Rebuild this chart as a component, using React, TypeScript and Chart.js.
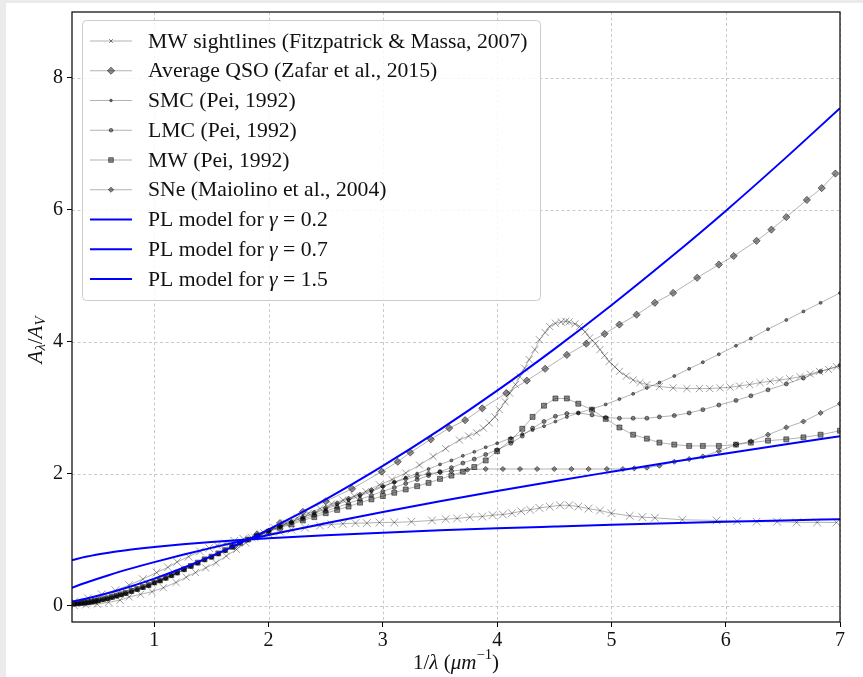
import React, { useEffect, useRef } from 'react';
import { Chart, registerables } from 'chart.js';

Chart.register(...registerables);

const FONT = '"Liberation Serif", "Times New Roman", serif';

const X_TICKS = [1, 2, 3, 4, 5, 6, 7];
const Y_TICKS = [0, 2, 4, 6, 8];

// MW sightlines (Fitzpatrick & Massa, 2007) - steep sightline with strong bump
const FM_HIGH_X = [0.30, 0.40, 0.50, 0.60, 0.70, 0.78, 0.88, 0.98, 1.08, 1.19, 1.28, 1.36, 1.45, 1.54, 1.63, 1.72, 1.80, 1.88, 1.96, 2.05, 2.15, 2.25, 2.35, 2.45, 2.55, 2.65, 2.75, 2.85, 2.97, 3.08, 3.20, 3.32, 3.44, 3.55, 3.67, 3.75, 3.82, 3.88, 3.93, 3.98, 4.02, 4.07, 4.11, 4.16, 4.20, 4.24, 4.28, 4.33, 4.37, 4.42, 4.46, 4.51, 4.56, 4.60, 4.63, 4.68, 4.72, 4.77, 4.81, 4.86, 4.90, 4.94, 4.98, 5.03, 5.07, 5.13, 5.19, 5.25, 5.31, 5.42, 5.54, 5.66, 5.77, 5.86, 5.95, 6.04, 6.12, 6.21, 6.30, 6.39, 6.47, 6.56, 6.65, 6.74, 6.82, 6.90, 6.97];
const FM_HIGH_Y = [0.0, 0.01, 0.02, 0.05, 0.08, 0.13, 0.17, 0.21, 0.27, 0.35, 0.43, 0.50, 0.57, 0.65, 0.75, 0.85, 0.95, 1.03, 1.10, 1.18, 1.25, 1.33, 1.40, 1.47, 1.54, 1.60, 1.66, 1.73, 1.83, 1.91, 2.01, 2.13, 2.26, 2.38, 2.51, 2.57, 2.62, 2.69, 2.77, 2.86, 2.97, 3.09, 3.22, 3.35, 3.47, 3.60, 3.73, 3.88, 4.03, 4.14, 4.23, 4.28, 4.30, 4.31, 4.30, 4.27, 4.23, 4.15, 4.06, 3.97, 3.88, 3.79, 3.70, 3.62, 3.55, 3.48, 3.42, 3.38, 3.35, 3.32, 3.30, 3.29, 3.29, 3.29, 3.30, 3.31, 3.33, 3.35, 3.38, 3.40, 3.42, 3.44, 3.47, 3.51, 3.55, 3.58, 3.62];

// MW sightlines (Fitzpatrick & Massa, 2007) - flat sightline with weak bump
const FM_LOW_X = [0.30, 0.42, 0.54, 0.66, 0.78, 0.90, 1.02, 1.12, 1.20, 1.30, 1.40, 1.48, 1.55, 1.62, 1.70, 1.78, 1.85, 1.93, 2.00, 2.10, 2.20, 2.32, 2.45, 2.55, 2.65, 2.76, 2.86, 2.97, 3.10, 3.25, 3.43, 3.55, 3.65, 3.76, 3.87, 3.96, 4.05, 4.13, 4.21, 4.29, 4.37, 4.46, 4.55, 4.63, 4.71, 4.80, 4.90, 5.00, 5.16, 5.27, 5.38, 5.62, 5.92, 6.10, 6.27, 6.45, 6.62, 6.80, 6.97];
const FM_LOW_Y = [0.06, 0.11, 0.17, 0.23, 0.31, 0.40, 0.50, 0.58, 0.66, 0.74, 0.82, 0.87, 0.91, 0.94, 0.98, 1.01, 1.03, 1.06, 1.09, 1.12, 1.15, 1.18, 1.21, 1.23, 1.24, 1.25, 1.25, 1.26, 1.26, 1.27, 1.29, 1.31, 1.32, 1.34, 1.35, 1.37, 1.38, 1.40, 1.43, 1.45, 1.48, 1.50, 1.52, 1.52, 1.50, 1.47, 1.44, 1.40, 1.36, 1.34, 1.33, 1.30, 1.29, 1.28, 1.27, 1.27, 1.26, 1.26, 1.26];

// Average QSO (Zafar et al., 2015)
const QSO_X = [1.70, 1.90, 2.10, 2.30, 2.50, 2.73, 2.99, 3.13, 3.24, 3.42, 3.58, 3.72, 3.87, 4.08, 4.26, 4.42, 4.61, 4.78, 4.94, 5.07, 5.22, 5.38, 5.54, 5.75, 5.94, 6.07, 6.27, 6.40, 6.53, 6.71, 6.84, 6.96];
const QSO_Y = [0.90, 1.08, 1.25, 1.42, 1.58, 1.77, 2.03, 2.18, 2.32, 2.52, 2.69, 2.81, 2.99, 3.22, 3.41, 3.59, 3.80, 3.97, 4.12, 4.26, 4.41, 4.59, 4.74, 4.97, 5.17, 5.30, 5.53, 5.70, 5.89, 6.15, 6.33, 6.55];

// wavelength grid shared by the Pei (1992) curves
const PEI_X = [0.30, 0.33, 0.36, 0.39, 0.42, 0.45, 0.48, 0.51, 0.55, 0.59, 0.63, 0.67, 0.71, 0.75, 0.80, 0.85, 0.90, 0.95, 1.00, 1.05, 1.10, 1.15, 1.20, 1.26, 1.32, 1.38, 1.44, 1.50, 1.56, 1.62, 1.68, 1.75, 1.82, 1.90, 2.00, 2.10, 2.20, 2.30, 2.40, 2.50, 2.60, 2.70, 2.80, 2.90, 3.00, 3.10, 3.20, 3.30, 3.40, 3.50, 3.60, 3.70, 3.80, 3.90, 4.00, 4.12, 4.22, 4.31, 4.41, 4.51, 4.61, 4.71, 4.83, 4.95, 5.07, 5.19, 5.31, 5.42, 5.55, 5.68, 5.80, 5.94, 6.09, 6.22, 6.37, 6.53, 6.68, 6.83, 7.00];

// SMC (Pei, 1992)
const SMC_Y = [0.020, 0.025, 0.030, 0.035, 0.040, 0.050, 0.060, 0.070, 0.085, 0.10, 0.12, 0.14, 0.16, 0.18, 0.21, 0.24, 0.27, 0.30, 0.34, 0.37, 0.41, 0.45, 0.49, 0.54, 0.59, 0.64, 0.69, 0.73, 0.78, 0.83, 0.89, 0.95, 1.00, 1.06, 1.14, 1.20, 1.27, 1.33, 1.40, 1.46, 1.53, 1.60, 1.66, 1.73, 1.80, 1.87, 1.94, 2.00, 2.07, 2.14, 2.20, 2.27, 2.33, 2.40, 2.46, 2.54, 2.60, 2.66, 2.72, 2.79, 2.86, 2.92, 2.98, 3.05, 3.13, 3.21, 3.30, 3.38, 3.48, 3.59, 3.69, 3.81, 3.94, 4.05, 4.19, 4.33, 4.46, 4.59, 4.74];

// LMC (Pei, 1992)
const LMC_Y = [0.025, 0.030, 0.035, 0.040, 0.045, 0.055, 0.065, 0.075, 0.090, 0.105, 0.125, 0.145, 0.165, 0.185, 0.215, 0.245, 0.275, 0.305, 0.345, 0.375, 0.415, 0.455, 0.495, 0.545, 0.595, 0.645, 0.695, 0.735, 0.785, 0.835, 0.89, 0.95, 1.00, 1.06, 1.13, 1.19, 1.25, 1.31, 1.37, 1.43, 1.49, 1.55, 1.61, 1.67, 1.73, 1.79, 1.85, 1.91, 1.97, 2.03, 2.09, 2.16, 2.22, 2.29, 2.36, 2.46, 2.57, 2.69, 2.79, 2.87, 2.91, 2.92, 2.89, 2.85, 2.84, 2.84, 2.84, 2.86, 2.88, 2.92, 2.97, 3.04, 3.11, 3.18, 3.27, 3.36, 3.45, 3.55, 3.64];

// MW (Pei, 1992)
const MWP_Y = [0.030, 0.035, 0.040, 0.045, 0.050, 0.060, 0.070, 0.080, 0.095, 0.11, 0.13, 0.15, 0.17, 0.19, 0.22, 0.25, 0.28, 0.31, 0.35, 0.38, 0.42, 0.46, 0.50, 0.55, 0.60, 0.65, 0.70, 0.74, 0.79, 0.84, 0.89, 0.95, 1.00, 1.05, 1.12, 1.18, 1.23, 1.29, 1.34, 1.40, 1.45, 1.50, 1.56, 1.61, 1.66, 1.71, 1.76, 1.81, 1.86, 1.92, 1.97, 2.03, 2.10, 2.20, 2.34, 2.51, 2.68, 2.86, 3.03, 3.14, 3.14, 3.06, 2.97, 2.83, 2.70, 2.59, 2.53, 2.47, 2.44, 2.42, 2.42, 2.42, 2.44, 2.47, 2.50, 2.52, 2.55, 2.59, 2.65];

// SNe (Maiolino et al., 2004)
const SNE_X = [2.00, 2.10, 2.20, 2.30, 2.40, 2.50, 2.60, 2.70, 2.80, 2.90, 3.00, 3.10, 3.20, 3.30, 3.40, 3.50, 3.60, 3.74, 3.90, 4.05, 4.20, 4.35, 4.50, 4.65, 4.80, 4.96, 5.10, 5.20, 5.31, 5.42, 5.55, 5.68, 5.80, 5.94, 6.09, 6.22, 6.37, 6.53, 6.68, 6.83, 7.00];
const SNE_Y = [1.13, 1.20, 1.27, 1.34, 1.41, 1.48, 1.55, 1.62, 1.68, 1.75, 1.81, 1.87, 1.92, 1.96, 2.00, 2.02, 2.04, 2.06, 2.07, 2.07, 2.07, 2.07, 2.07, 2.07, 2.07, 2.07, 2.07, 2.08, 2.09, 2.12, 2.18, 2.22, 2.26, 2.34, 2.44, 2.49, 2.59, 2.70, 2.79, 2.92, 3.06];

// Power-law models
const PL_X = [0.28, 0.40, 0.60, 0.80, 1.00, 1.25, 1.50, 1.82, 2.00, 2.50, 3.00, 3.50, 4.00, 4.50, 5.00, 5.50, 6.00, 6.50, 7.00];
const PL_G02 = [0.688, 0.739, 0.801, 0.848, 0.887, 0.928, 0.962, 1.0, 1.019, 1.066, 1.105, 1.140, 1.171, 1.198, 1.224, 1.248, 1.270, 1.290, 1.309];
const PL_G07 = [0.270, 0.346, 0.460, 0.563, 0.658, 0.769, 0.874, 1.0, 1.068, 1.249, 1.419, 1.581, 1.735, 1.885, 2.028, 2.169, 2.305, 2.438, 2.568];
const PL_G15 = [0.060, 0.103, 0.189, 0.291, 0.407, 0.569, 0.749, 1.0, 1.152, 1.610, 2.117, 2.667, 3.258, 3.888, 4.554, 5.254, 5.984, 6.750, 7.542];

const GRAY_LINE = 'rgba(0,0,0,0.3)';
const MARK_FILL = 'rgba(0,0,0,0.45)';
const MARK_EDGE = 'rgba(0,0,0,0.5)';
const CROSS_EDGE = 'rgba(0,0,0,0.38)';
const BLUE = '#0000ff';

type Series = {
  label: string;
  xs: number[];
  ys: number[];
  style: string | false;
  r: number;
  legendR: number;
  legend: boolean;
  blue?: boolean;
};

const SERIES: Series[] = [
  { label: 'MW sightlines (Fitzpatrick & Massa, 2007)', xs: FM_HIGH_X, ys: FM_HIGH_Y, style: 'crossRot', r: 5, legendR: 2.6, legend: true },
  { label: 'MW sightlines (Fitzpatrick & Massa, 2007)', xs: FM_LOW_X, ys: FM_LOW_Y, style: 'crossRot', r: 5.5, legendR: 2.6, legend: false },
  { label: 'Average QSO (Zafar et al., 2015)', xs: QSO_X, ys: QSO_Y, style: 'rectRot', r: 3.6, legendR: 3.6, legend: true },
  { label: 'SMC (Pei, 1992)', xs: PEI_X, ys: SMC_Y, style: 'circle', r: 1.5, legendR: 1.3, legend: true },
  { label: 'LMC (Pei, 1992)', xs: PEI_X, ys: LMC_Y, style: 'circle', r: 2.0, legendR: 1.8, legend: true },
  { label: 'MW (Pei, 1992)', xs: PEI_X, ys: MWP_Y, style: 'rect', r: 3.5, legendR: 3.3, legend: true },
  { label: 'SNe (Maiolino et al., 2004)', xs: SNE_X, ys: SNE_Y, style: 'rectRot', r: 2.6, legendR: 2.6, legend: true },
  { label: 'PL model for γ = 0.2', xs: PL_X, ys: PL_G02, style: false, r: 0, legendR: 0, legend: true, blue: true },
  { label: 'PL model for γ = 0.7', xs: PL_X, ys: PL_G07, style: false, r: 0, legendR: 0, legend: true, blue: true },
  { label: 'PL model for γ = 1.5', xs: PL_X, ys: PL_G15, style: false, r: 0, legendR: 0, legend: true, blue: true },
];

type Seg = { t: string; it?: boolean; sub?: boolean; sup?: boolean };

function segsWidth(ctx: CanvasRenderingContext2D, segs: Seg[], size: number) {
  let w = 0;
  for (const s of segs) {
    const sz = s.sub || s.sup ? size * 0.7 : size;
    ctx.font = `${s.it ? 'italic ' : ''}${sz}px ${FONT}`;
    w += ctx.measureText(s.t).width;
  }
  return w;
}

function drawSegs(ctx: CanvasRenderingContext2D, segs: Seg[], x: number, y: number, size: number) {
  let cx = x;
  for (const s of segs) {
    const sz = s.sub || s.sup ? size * 0.7 : size;
    ctx.font = `${s.it ? 'italic ' : ''}${sz}px ${FONT}`;
    const dy = s.sub ? size * 0.25 : s.sup ? -size * 0.38 : 0;
    ctx.fillText(s.t, cx, y + dy);
    cx += ctx.measureText(s.t).width;
  }
}

function labelSegs(label: string): Seg[] {
  const parts = label.split('γ');
  if (parts.length === 1) return [{ t: label }];
  return [{ t: parts[0] }, { t: 'γ', it: true }, { t: parts[1] }];
}

function drawMarker(ctx: CanvasRenderingContext2D, style: string, x: number, y: number, r: number) {
  ctx.save();
  ctx.fillStyle = MARK_FILL;
  ctx.strokeStyle = MARK_EDGE;
  ctx.lineWidth = 1;
  ctx.beginPath();
  if (style === 'crossRot') {
    const d = r * Math.SQRT1_2;
    ctx.moveTo(x - d, y - d);
    ctx.lineTo(x + d, y + d);
    ctx.moveTo(x - d, y + d);
    ctx.lineTo(x + d, y - d);
    ctx.stroke();
  } else if (style === 'rectRot') {
    ctx.moveTo(x, y - r);
    ctx.lineTo(x + r, y);
    ctx.lineTo(x, y + r);
    ctx.lineTo(x - r, y);
    ctx.closePath();
    ctx.fill();
    ctx.stroke();
  } else if (style === 'rect') {
    const s = r * Math.SQRT1_2;
    ctx.rect(x - s, y - s, 2 * s, 2 * s);
    ctx.fill();
    ctx.stroke();
  } else {
    ctx.arc(x, y, r, 0, Math.PI * 2);
    ctx.fill();
    ctx.stroke();
  }
  ctx.restore();
}

const Y_TITLE: Seg[] = [
  { t: 'A', it: true },
  { t: 'λ', it: true, sub: true },
  { t: '/' },
  { t: 'A', it: true },
  { t: 'V', it: true, sub: true },
];
const X_TITLE: Seg[] = [
  { t: '1/' },
  { t: 'λ', it: true },
  { t: ' (' },
  { t: 'μm', it: true },
  { t: '−1', sup: true },
  { t: ')' },
];

const decorPlugin = {
  id: 'decor',
  beforeDatasetsDraw(chart: any) {
    const { ctx, chartArea: a, scales } = chart;
    ctx.save();
    ctx.strokeStyle = '#bdbdbd';
    ctx.lineWidth = 0.8;
    ctx.setLineDash([3, 2.5]);
    for (const v of X_TICKS) {
      const px = Math.round(scales.x.getPixelForValue(v)) + 0.5;
      ctx.beginPath();
      ctx.moveTo(px, a.top);
      ctx.lineTo(px, a.bottom);
      ctx.stroke();
    }
    for (const v of Y_TICKS) {
      const py = Math.round(scales.y.getPixelForValue(v)) + 0.5;
      ctx.beginPath();
      ctx.moveTo(a.left, py);
      ctx.lineTo(a.right, py);
      ctx.stroke();
    }
    ctx.restore();
  },
  afterDatasetsDraw(chart: any) {
    const { ctx, chartArea: a } = chart;
    ctx.save();
    // frame
    ctx.strokeStyle = '#000';
    ctx.lineWidth = 1.2;
    ctx.strokeRect(a.left, a.top, a.right - a.left, a.bottom - a.top);

    // legend
    const bx = 76, by = 17, bw = 458, bh = 280;
    ctx.beginPath();
    (ctx as any).roundRect(bx + 0.5, by + 0.5, bw, bh, 4);
    ctx.fillStyle = 'rgba(255,255,255,0.85)';
    ctx.fill();
    ctx.strokeStyle = '#cccccc';
    ctx.lineWidth = 1;
    ctx.stroke();

    const items = SERIES.filter((s) => s.legend);
    const rowTop = 38;
    const pitch = 29.75;
    ctx.textBaseline = 'middle';
    ctx.textAlign = 'left';
    items.forEach((s, i) => {
      const cy = rowTop + i * pitch;
      ctx.save();
      ctx.strokeStyle = s.blue ? BLUE : GRAY_LINE;
      ctx.lineWidth = s.blue ? 2 : 1;
      ctx.beginPath();
      ctx.moveTo(84, cy);
      ctx.lineTo(126, cy);
      ctx.stroke();
      ctx.restore();
      if (s.style) drawMarker(ctx, s.style, 105, cy, s.legendR);
      ctx.fillStyle = '#111';
      drawSegs(ctx, labelSegs(s.label), 142, cy + 1, 21.7);
    });

    // axis titles
    ctx.fillStyle = '#111';
    ctx.textBaseline = 'middle';
    const xw = segsWidth(ctx, X_TITLE, 21);
    const xc = (a.left + a.right) / 2;
    drawSegs(ctx, X_TITLE, xc - xw / 2, 660, 21);

    const yw = segsWidth(ctx, Y_TITLE, 21);
    ctx.translate(30, 337);
    ctx.rotate(-Math.PI / 2);
    drawSegs(ctx, Y_TITLE, -yw / 2, 0, 21);
    ctx.restore();
  },
};

export default function App() {
  const ref = useRef<HTMLCanvasElement | null>(null);

  useEffect(() => {
    if (!ref.current) return;
    const N = SERIES.length;
    const datasets = SERIES.map((s, i) => ({
      label: s.label,
      data: s.xs.slice(0, Math.min(s.xs.length, s.ys.length)).map((x, k) => ({ x, y: s.ys[k] })),
      borderColor: s.blue ? BLUE : GRAY_LINE,
      borderWidth: s.blue ? 2 : 1,
      backgroundColor: MARK_FILL,
      pointStyle: s.style || 'circle',
      pointRadius: s.style ? s.r : 0,
      pointBorderColor: s.style === 'crossRot' ? CROSS_EDGE : MARK_EDGE,
      pointBackgroundColor: MARK_FILL,
      pointBorderWidth: 1,
      pointHoverRadius: s.style ? s.r : 0,
      tension: 0,
      cubicInterpolationMode: s.blue ? 'monotone' : 'default',
      fill: false,
      clip: 0,
      order: N - i,
    }));

    const chart = new Chart(ref.current, {
      type: 'line',
      data: { datasets } as any,
      options: {
        animation: false,
        responsive: false,
        devicePixelRatio: 1,
        events: [],
        layout: { padding: { left: 0, top: 9, right: 23, bottom: 0 } },
        plugins: { legend: { display: false }, tooltip: { enabled: false } },
        scales: {
          x: {
            type: 'linear',
            min: 0.28,
            max: 7,
            afterBuildTicks: (s: any) => {
              s.ticks = X_TICKS.map((v) => ({ value: v }));
            },
            afterFit: (s: any) => {
              s.height = 55;
              s.paddingLeft = 0;
              s.paddingRight = 0;
            },
            ticks: {
              font: { family: FONT, size: 20 },
              color: '#111',
              padding: 2,
              maxRotation: 0,
              autoSkip: false,
              callback: (v: any) => String(v),
            },
            grid: { drawOnChartArea: false, drawTicks: true, tickLength: 5, tickColor: '#000', tickWidth: 1 },
            border: { display: false },
          },
          y: {
            type: 'linear',
            min: -0.25,
            max: 9,
            afterBuildTicks: (s: any) => {
              s.ticks = Y_TICKS.map((v) => ({ value: v }));
            },
            afterFit: (s: any) => {
              s.width = 66;
              s.paddingTop = 0;
              s.paddingBottom = 0;
            },
            ticks: {
              font: { family: FONT, size: 20 },
              color: '#111',
              padding: 4,
              autoSkip: false,
              callback: (v: any) => String(v),
            },
            grid: { drawOnChartArea: false, drawTicks: true, tickLength: 5, tickColor: '#000', tickWidth: 1 },
            border: { display: false },
          },
        },
      } as any,
      plugins: [decorPlugin],
    });
    return () => chart.destroy();
  }, []);

  return (
    <div style={{ position: 'fixed', left: 0, top: 0, width: '100vw', height: '100vh', background: '#ebebeb', overflow: 'hidden' }}>
      <canvas
        ref={ref}
        width={857}
        height={674}
        style={{ position: 'absolute', left: 6, top: 3, width: 857, height: 674, background: '#ffffff' }}
      />
    </div>
  );
}
